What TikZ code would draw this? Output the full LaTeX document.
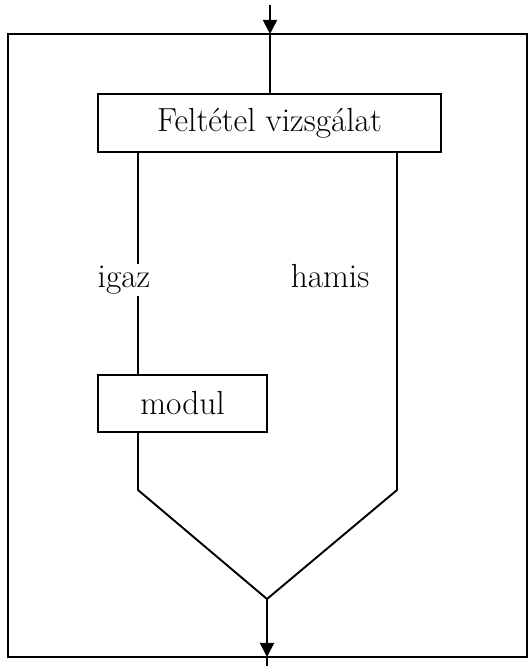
\documentclass[tikz,border=0pt]{standalone}
\usepackage{tikz}
\usetikzlibrary{arrows.meta}

\begin{document}
\begin{tikzpicture}[x=0.02cm,y=-0.02cm,line width=1.1pt,
  box/.style={draw,rectangle,font=\fontsize{19}{22}\selectfont},
  lab/.style={anchor=base,font=\fontsize{19}{22}\selectfont},
  flow/.style={-{Triangle[width=8pt,length=8pt]}}]
\useasboundingbox (0,0) rectangle (529,666);
\draw[line width=1.4pt] (8,34) rectangle (527,657);
\node[box,minimum width=6.86cm,minimum height=1.16cm] (cond) at (269.5,123) {Feltétel vizsgálat};
\node[box,minimum width=3.38cm,minimum height=1.14cm] (modul) at (182.5,403.5) {modul};
\coordinate (in) at (270,5);
\coordinate (top) at (270,34);
\coordinate (lb) at (138,490);
\coordinate (rb) at (397,490);
\coordinate (join) at (267,599);
\coordinate (bot) at (267,657);
\coordinate (out) at (267,666);
\draw[flow] (in) -- (top);
\draw (top) -- (cond.north -| top);
\draw (cond.south -| lb) -- (modul.north -| lb);
\draw (cond.south -| rb) -- (rb) -- (join);
\draw (modul.south -| lb) -- (lb) -- (join);
\draw[flow] (join) -- (bot);
\draw (bot) -- (out);
\node[lab,fill=white,inner sep=1pt] (igaz) at (124,287) {igaz};
\node[lab] (hamis) at (330,287) {hamis};
\end{tikzpicture}
\end{document}
